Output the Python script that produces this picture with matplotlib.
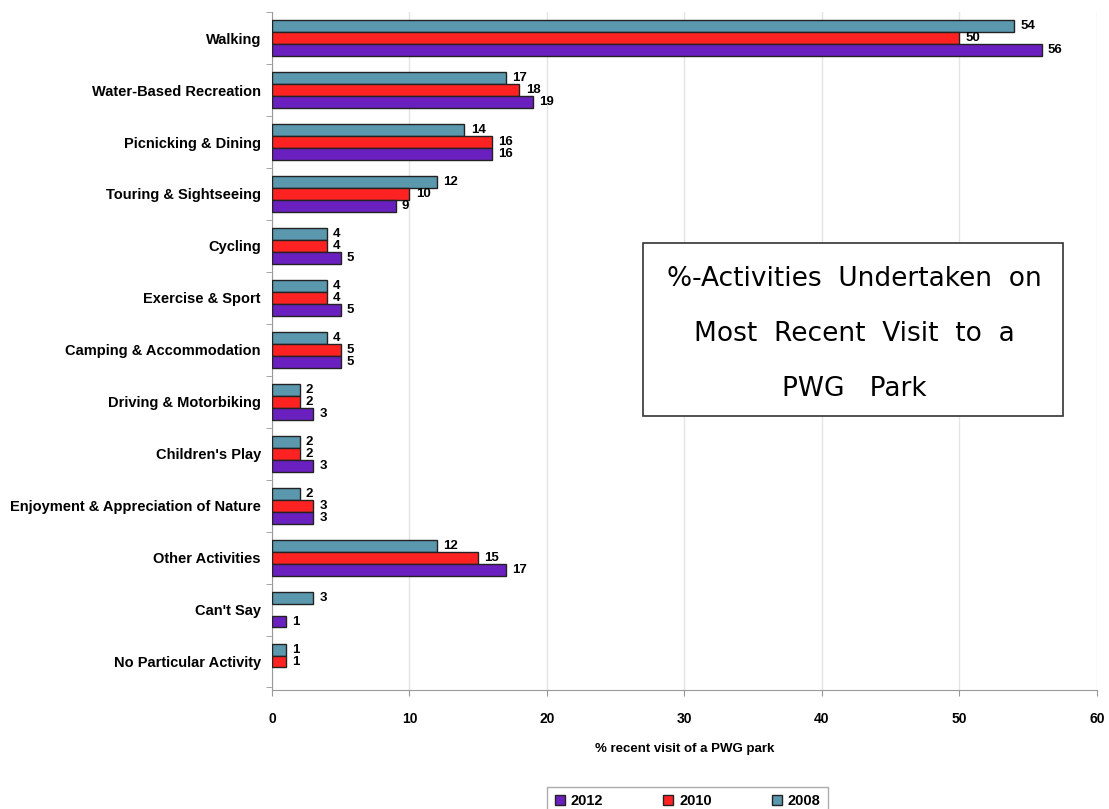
import matplotlib
matplotlib.use("Agg")
import matplotlib.pyplot as plt
from matplotlib.patches import Rectangle
import numpy as np

categories = [
    "Walking",
    "Water-Based Recreation",
    "Picnicking & Dining",
    "Touring & Sightseeing",
    "Cycling",
    "Exercise & Sport",
    "Camping & Accommodation",
    "Driving & Motorbiking",
    "Children's Play",
    "Enjoyment & Appreciation of Nature",
    "Other Activities",
    "Can't Say",
    "No Particular Activity",
]
# None = no bar for that year
v2008 = [54, 17, 14, 12, 4, 4, 4, 2, 2, 2, 12, 3, 1]
v2010 = [50, 18, 16, 10, 4, 4, 5, 2, 2, 3, 15, None, 1]
v2012 = [56, 19, 16, 9, 5, 5, 5, 3, 3, 3, 17, 1, None]
years = ["2012", "2010", "2008"]
colors = {"2012": "#6a1fbf", "2010": "#ff2222", "2008": "#5b97ad"}

plt.rcParams["font.family"] = ["Liberation Sans", "DejaVu Sans"]

fig = plt.figure(figsize=(11.09, 8.09), dpi=100)
ax = fig.add_axes([0.2453, 0.147, 0.7437, 0.838])

y = np.arange(len(categories))
h = 0.23
series = [("2008", v2008, -h), ("2010", v2010, 0.0), ("2012", v2012, h)]
for name, vals, off in series:
    for i, v in enumerate(vals):
        if v is None:
            continue
        ax.barh(y[i] + off, v, height=h, color=colors[name],
                edgecolor="#222222", linewidth=1.0, zorder=3)
        ax.text(v + 0.45, y[i] + off, str(v), va="center", ha="left",
                fontsize=9.5, fontweight="bold", zorder=4)

ax.set_ylim(len(categories) - 0.45, -0.5)
ax.set_xlim(0, 60)
ax.set_xticks(range(0, 61, 10))
ax.set_yticks(y)
ax.set_yticks(np.arange(-0.5, len(categories), 1.0), minor=True)
ax.set_yticklabels(categories, fontsize=10.5, fontweight="bold")
ax.tick_params(axis="x", labelsize=10, length=4, color="#999999", pad=12)
ax.tick_params(axis="y", which="major", length=0, pad=8)
ax.tick_params(axis="y", which="minor", length=4, color="#999999")
for lab in ax.get_xticklabels():
    lab.set_fontweight("bold")
ax.set_xlabel("% recent visit of a PWG park", fontsize=9.5, fontweight="bold", labelpad=12)
ax.grid(axis="x", color="#e4e4e4", linewidth=1.0, zorder=0)
for side in ["top", "right"]:
    ax.spines[side].set_visible(False)
ax.spines["left"].set_color("#999999")
ax.spines["bottom"].set_color("#999999")

# title box inside the plot area
ax.add_patch(Rectangle((0.4497, 0.405), 0.509, 0.255, transform=ax.transAxes,
                       facecolor="white", edgecolor="#333333", linewidth=1.2, zorder=5))
title_lines = ["%-Activities  Undertaken  on",
               "Most  Recent  Visit  to  a",
               "PWG   Park"]
for k, line in enumerate(title_lines):
    ax.text(0.706, 0.606 - k * 0.081, line, transform=ax.transAxes, ha="center",
            va="center", fontsize=19, family="DejaVu Sans", zorder=6)

handles = [Rectangle((0, 0), 1, 1, facecolor=colors[n], edgecolor="#222222") for n in years]
leg = fig.legend(handles, years, loc="upper center", bbox_to_anchor=(0.62, 0.036),
                 ncol=3, frameon=True, fancybox=False, edgecolor="#999999",
                 prop={"weight": "bold", "size": 10.5}, handlelength=0.7, handleheight=0.7,
                 columnspacing=4.1, handletextpad=0.4, borderpad=0.5)

fig.savefig("out.png", dpi=100)
